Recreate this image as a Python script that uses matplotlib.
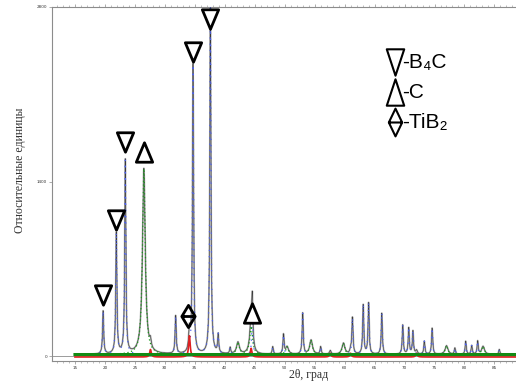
import numpy as np
import matplotlib
matplotlib.use("Agg")
import matplotlib.pyplot as plt
from matplotlib.path import Path
from matplotlib.ticker import MultipleLocator

# ---- data ----
b4c_pos = [19.7, 21.9, 23.4, 31.8, 34.7, 37.6, 38.9, 40.9, 44.6, 48.0, 49.8,
           53.0, 56.0, 61.3, 63.1, 64.0, 66.2, 69.7, 70.7, 71.4, 73.3, 74.6,
           78.4, 80.2, 81.2, 82.2, 85.8]
b4c_int = [345, 970, 1555, 305, 2320, 2780, 150, 50, 330, 60, 155,
           330, 60, 290, 395, 410, 330, 235, 210, 185, 105, 210,
           50, 105, 70, 105, 40]
c_pos = [26.5, 42.2, 44.4, 50.4, 54.4, 59.8, 77.0, 83.1]
c_int = [1490, 95, 225, 60, 115, 90, 70, 65]
tib2_pos = [27.6, 34.1, 44.4, 57.6, 61.0, 72.0]
tib2_int = [60, 170, 70, 30, 30, 30]

# marker annotations: (2θ, height, kind)
mark_pos = [19.7, 21.9, 23.4, 34.7, 37.6, 26.5, 44.5, 33.9]
mark_val = [490, 1094, 1713, 2437, 2703, 1633, 346, 322]
mark_kind = ['v', '^', '^', 'v', 'v', '^', '^', 'd']
mark_kind = ['v', 'v', 'v', 'v', 'v', '^', '^', 'd']

x_start, x_end = 15.0, 88.6
background = 12


def profile(x, pos, inten, fwhm):
    y = np.zeros_like(x)
    g = fwhm / 2.0
    for p, h in zip(pos, inten):
        y += h * g**2 / ((x - p)**2 + g**2)
    return y


x = np.linspace(x_start, x_end, 6000)
y_b4c = profile(x, b4c_pos, b4c_int, 0.22)
y_c = profile(x, c_pos, c_int, 0.55)
y_tib2 = profile(x, tib2_pos, tib2_int, 0.3)
y_obs = y_b4c + y_c + y_tib2 + background

# ---- figure ----
W, H = 516, 381
fig = plt.figure(figsize=(W / 100, H / 100), dpi=100)
ax = fig.add_axes([52 / W, (H - 361) / H, 1.02 - 52 / W, (361 - 7) / H])
ax.set_xlim(11.17, 88.6 + (0.02 * W) / 6)
ax.set_ylim(-40, 2800)

gray = '#8c8c8c'
for s in ['left', 'top', 'bottom']:
    ax.spines[s].set_color(gray)
    ax.spines[s].set_linewidth(0.8)
ax.spines['right'].set_visible(False)

ax.axhline(0, color=gray, lw=0.6, zorder=1)
ax.plot(x, y_obs, color='#b4b4b4', lw=1.3, zorder=2)
ax.plot(x, y_obs, color='#3a3a3a', lw=0.4, zorder=3)
ax.plot(x, y_b4c + background, color='#4a5ff0', lw=0.9,
        linestyle=(0, (1, 4)), zorder=4)
ax.plot(x, y_c + background, color='#1a9a1a', lw=0.9,
        linestyle=(0, (1, 2)), zorder=4)
ax.plot(x, np.full_like(x, background), color='#138a13', lw=2.2, zorder=5)
ax.plot(x, y_tib2 - 8, color='#e02020', lw=1.2, zorder=4)


def tri(w, up):
    s = 1 if up else -1
    return Path([(0, 0.5 * s), (-w, -0.5 * s), (w, -0.5 * s), (0, 0.5 * s)],
                [Path.MOVETO, Path.LINETO, Path.LINETO, Path.CLOSEPOLY])


def diamond(w):
    return Path([(0, 0.5), (w, 0.0), (0, -0.5), (-w, 0.0), (0, 0.5),
                 (-w, 0.0), (w, 0.0)],
                [Path.MOVETO, Path.LINETO, Path.LINETO, Path.LINETO,
                 Path.CLOSEPOLY, Path.MOVETO, Path.LINETO])


mk = {'v': tri(0.42, False), '^': tri(0.42, True), 'd': diamond(0.3)}
mk_leg = {'v': tri(0.33, False), '^': tri(0.33, True), 'd': diamond(0.24)}

for p, v, k in zip(mark_pos, mark_val, mark_kind):
    ax.plot([p], [v], marker=mk[k], markersize=14 if k != 'd' else 16,
            mfc='white' if k != 'd' else 'none', mec='black', mew=2.0,
            linestyle='none', zorder=10)

# ticks
ax.xaxis.set_major_locator(MultipleLocator(5))
ax.xaxis.set_minor_locator(MultipleLocator(1))
ax.set_xticks(np.arange(15, 90, 5))
ax.set_yticks([0, 1400, 2800])
ax.tick_params(axis='both', which='major', labelsize=3, length=2.5,
               width=0.5, color=gray, labelcolor='#333333', pad=1.0,
               direction='out')
ax.tick_params(axis='x', which='minor', length=1.5, width=0.4, color=gray,
               direction='out')
ax.tick_params(axis='x', which='both', top=True)

serif = ['Liberation Serif', 'DejaVu Serif']
fig.text(20 / W, 1 - 170 / H, 'Относительные единицы', rotation=90,
         ha='center', va='center', fontsize=8.5, family=serif,
         color='#333333')
fig.text(309 / W, 1 - 375 / H, '2θ, град', ha='center', va='center',
         fontsize=8.5, family=serif, color='#333333')

# legend
sans = ['Liberation Sans', 'DejaVu Sans']
leg_sym = ['v', '^', 'd']
leg_txt = ['-B₄C', '-C', '-TiB₂']
leg_y = [62, 92, 122]
leg_size = [19, 19, 20]
for k, t, yy, sz in zip(leg_sym, leg_txt, leg_y, leg_size):
    fig.lines.append(plt.Line2D([394.5 / W], [1 - yy / H], marker=mk_leg[k],
                                markersize=sz, mfc='none', mec='black',
                                mew=1.5, linestyle='none',
                                transform=fig.transFigure))
    fig.text(402 / W, 1 - yy / H, t, ha='left', va='center', fontsize=15,
             family=sans, color='black')

fig.savefig('out.png', dpi=100)
